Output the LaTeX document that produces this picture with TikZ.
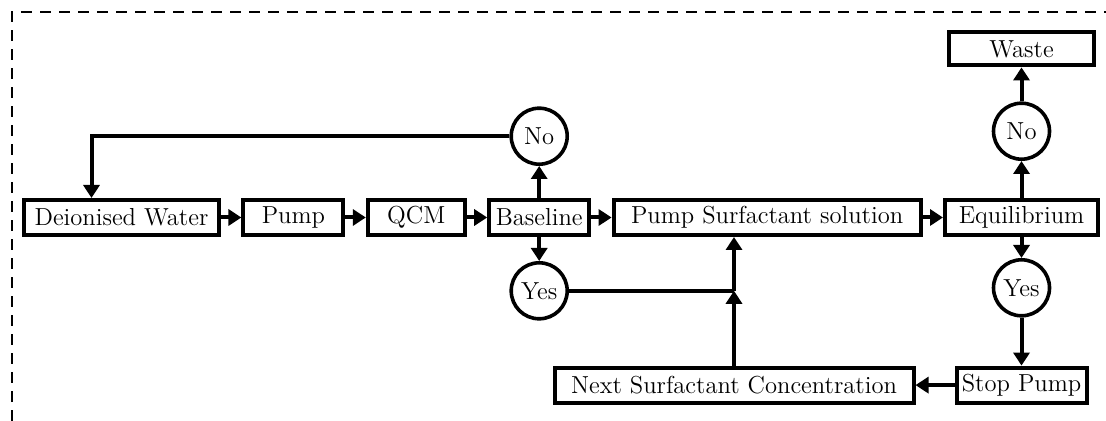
\documentclass[tikz,border=0pt]{standalone}
\usepackage{tikz}
\usetikzlibrary{arrows.meta, positioning}

\begin{document}
\begin{tikzpicture}[
  x=0.5pt, y=-0.5pt,
  font=\fontsize{12.3}{14}\selectfont,
  box/.style   = {draw, line width=2pt, minimum height=17.5pt,
                  inner xsep=2pt, inner ysep=0pt, align=center},
  dec/.style   = {draw, circle, line width=1.8pt, minimum size=28pt, inner sep=0pt},
  flow/.style  = {-{Triangle[length=6.5pt, width=8pt]}, line width=2pt},
  link/.style  = {line width=2pt},
  frame/.style = {line width=1pt, dash pattern=on 5.5pt off 4pt},
  node distance=10.2pt,
]
\useasboundingbox (0,0) rectangle (1106,421);

% ---- the main row
\node[box, minimum width=97.5pt, anchor=west] (water) at (22,217.5) {Deionised Water};
\node[box, minimum width=50pt, right=of water]   (pump) {Pump};
\node[box, minimum width=48.5pt, right=of pump]  (qcm)  {QCM};
\node[box, minimum width=50pt, right=of qcm]     (base) {Baseline};
\node[box, minimum width=153.5pt, right=of base] (surf) {Pump Surfactant solution};
\node[box, minimum width=76.5pt, right=of surf]  (equi) {Equilibrium};

% ---- the two checks
\node[dec, above=16pt of base]   (nobase)  {No};
\node[dec, below=12pt of base]   (yesbase) {Yes};
\node[dec, above=18.5pt of equi] (noequi)  {No};
\node[dec, below=10.5pt of equi] (yesequi) {Yes};
\node[box, minimum width=72.5pt, minimum height=16.5pt, above=17pt of noequi] (waste) {Waste};

% ---- the way back
\node[box, minimum width=65pt, below=24pt of yesequi]   (stop) {Stop Pump};
\node[box, minimum width=179.5pt, left=19.5pt of stop] (next) {Next Surfactant Concentration};
\coordinate (join) at (next.north |- yesbase.east);

\draw[flow] (water) -- (pump);
\draw[flow] (pump) -- (qcm);
\draw[flow] (qcm) -- (base);
\draw[flow] (base) -- (surf);
\draw[flow] (surf) -- (equi);
\draw[flow] (base) -- (nobase);
\draw[flow] (base) -- (yesbase);
\draw[flow] (nobase.west) -| ([xshift=-15pt]water.north);
\draw[link] (yesbase) -- (join);
\draw[flow] (join) -- (join |- surf.south);
\draw[flow] (next) -- (join);
\draw[flow] (equi) -- (noequi);
\draw[flow] (noequi) -- (waste);
\draw[flow] (equi) -- (yesequi);
\draw[flow] (yesequi) -- (yesequi |- stop.north);
\draw[flow] (stop) -- (next);

\draw[frame] (12,421) |- (1106,12);

\end{tikzpicture}
\end{document}
